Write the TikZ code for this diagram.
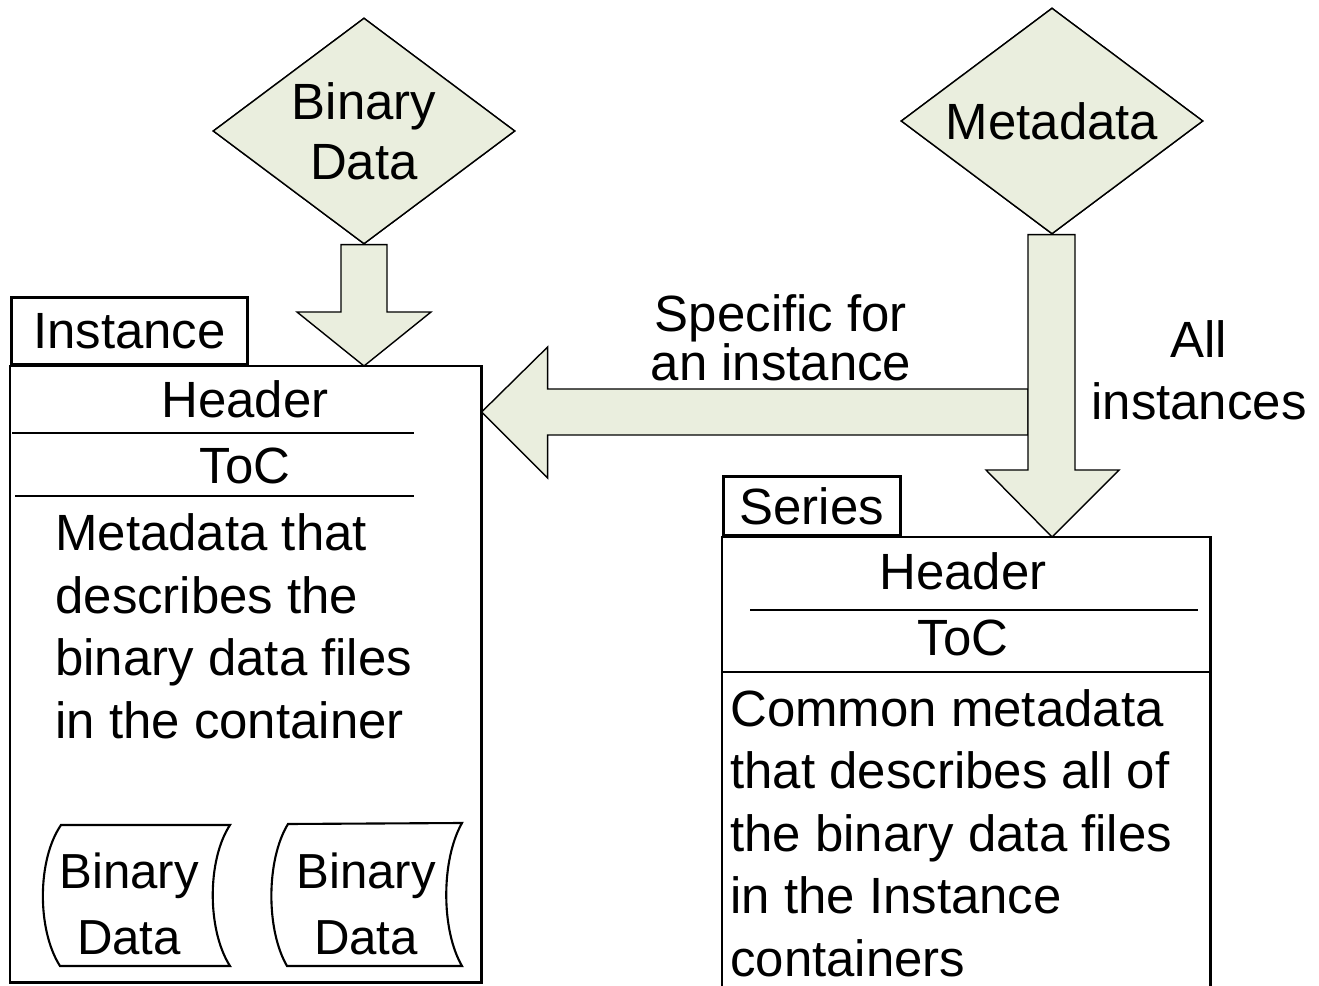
\documentclass[tikz,border=0pt]{standalone}
\usepackage{fontspec}
\setmainfont{Liberation Sans}
\usetikzlibrary{shapes.geometric,calc}
\definecolor{fillg}{RGB}{234,238,222}
\begin{document}
\begin{tikzpicture}[x=0.02cm,y=-0.02cm,
  txt/.style={font=\fontsize{29}{35.5}\selectfont, inner sep=0pt},
  dia/.style={diamond, draw, fill=fillg, line width=0.8pt, inner sep=0pt,
    minimum width=6.04cm, minimum height=4.52cm, aspect=1.336,
    font=\fontsize{29}{34}\selectfont, align=center},
  blockarrow/.style={draw, fill=fillg, line width=0.8pt, line join=miter},
  boxline/.style={line width=1.6pt},
  sepline/.style={line width=1.3pt},
  datashape/.style={draw, line width=1.2pt, fill=white},
  tab/.style={draw, line width=1.6pt, inner sep=0pt, font=\fontsize{29}{35.5}\selectfont}
]
\useasboundingbox (0,0) rectangle (1319,986);

% containers (invisible anchors first)
\node[inner sep=0pt, minimum width=9.42cm, minimum height=12.32cm, anchor=north west] (ins) at (10,366) {};
\node[inner sep=0pt, minimum width=9.76cm, minimum height=8.98cm, anchor=north west] (ser) at (722,537) {};

% diamonds (positions)
\node[dia] (bd) at (364,131) {Binary\\Data};
\node[dia] (md) at (1052,121) {Metadata};

% tips
\coordinate (a1tip) at (bd.south |- ins.north);
\coordinate (a2tip) at (md.south |- ser.north);
\coordinate (a3tip) at ($(ins.north east)+(0,46)$);
\coordinate (a3end) at ($(md.south)+(-24,0)$);

% horizontal arrow (specific for an instance)
\draw[blockarrow] (a3tip) -- ++(66,-65) -- ++(0,42) -- (a3end |- 0,389) -- (a3end |- 0,435)
  -- ($(a3tip)+(66,23)$) -- ++(0,43) -- cycle;

% vertical arrow (all instances)
\draw[blockarrow] ($(md.south)+(-24,0)$) -- ($(md.south)+(23,0)$) -- ($(a2tip)+(23,-67)$)
  -- ($(a2tip)+(67,-67)$) -- (a2tip) -- ($(a2tip)+(-66,-67)$) -- ($(a2tip)+(-24,-67)$) -- cycle;

% binary data arrow
\draw[blockarrow] ($(bd.south)+(-23,0)$) -- ($(bd.south)+(23,0)$) -- ($(a1tip)+(23,-54)$)
  -- ($(a1tip)+(67,-54)$) -- (a1tip) -- ($(a1tip)+(-67,-54)$) -- ($(a1tip)+(-23,-54)$) -- cycle;

% redraw diamonds on top
\node[dia] at (bd) {Binary\\Data};
\node[dia] at (md) {Metadata};

% Instance container
\draw[boxline] (ins.north west) rectangle (ins.south east);
\node[tab, anchor=south west, minimum width=4.72cm, minimum height=1.34cm] (instab) at (ins.north west) {Instance};
\node[txt, anchor=base] (insh) at (245,418) {Header};
\draw[sepline] (12,433) -- (414,433);
\node[txt, anchor=base] (insc) at (245,483) {ToC};
\draw[sepline] (15,496) -- (414,496);
\node[txt, align=left, anchor=base west] (insb) at (55,738) {Metadata that\\describes the\\binary data files\\in the container};

% binary data files
\draw[datashape] (61,825) -- (230,825) .. controls (207,860) and (207,930) .. (230,966)
  -- (60,966) .. controls (37,930) and (37,860) .. (61,825) -- cycle;
\node[txt, align=center, anchor=base, font=\fontsize{28}{37}\selectfont] (bd1) at (129,954) {Binary\\Data};
\draw[datashape] (288,824) -- (462,823) .. controls (441,860) and (441,930) .. (462,966)
  -- (287,966) .. controls (266,930) and (266,860) .. (288,824) -- cycle;
\node[txt, align=center, anchor=base, font=\fontsize{28}{37}\selectfont] (bd2) at (366,954) {Binary\\Data};

% Series container
\draw[boxline] (ser.south west) |- (ser.north east) -- (ser.south east);
\node[tab, anchor=south west, minimum width=3.54cm, minimum height=1.18cm] (sertab) at (ser.north west) {Series};
\node[txt, anchor=base] (serh) at (963,589) {Header};
\draw[sepline] (750,610) -- (1198,610);
\node[txt, anchor=base] (serc) at (963,655) {ToC};
\draw[boxline] (722,672) -- (1210,672);
\node[txt, align=left, anchor=base west] (serb) at (730,976) {Common metadata\\that describes all of\\the binary data files\\in the Instance\\containers};

% labels
\node[txt, align=center, anchor=base, font=\fontsize{29}{28}\selectfont] (lspec) at (781,381) {Specific for\\an instance};
\node[txt, align=center, anchor=base, font=\fontsize{29}{35.5}\selectfont] (lall) at (1199,420) {All\\instances};
\end{tikzpicture}
\end{document}
